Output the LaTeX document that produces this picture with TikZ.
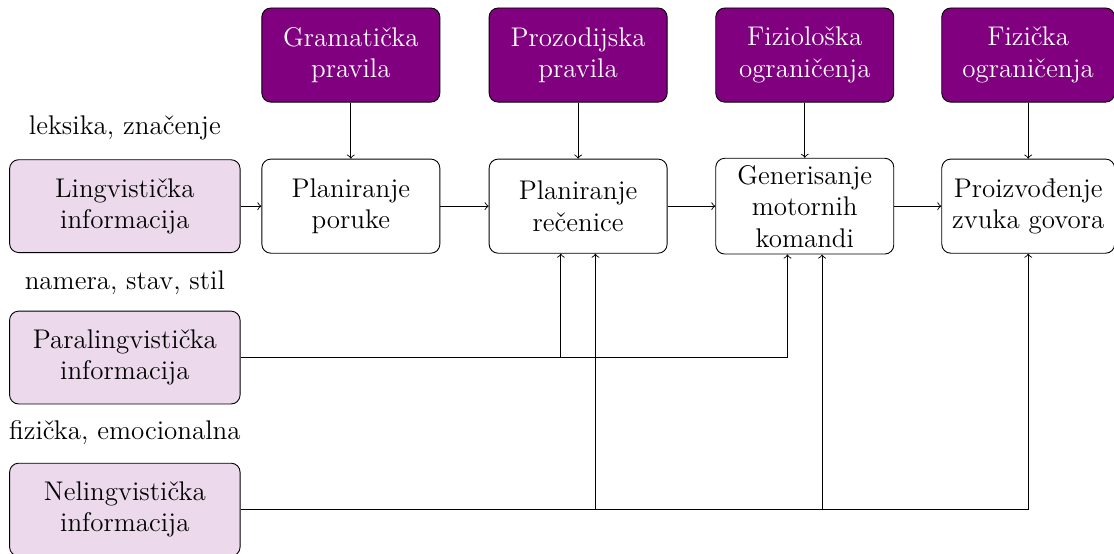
\documentclass[tikz,border=0pt]{standalone}
\usepackage{fontspec}

\definecolor{ljubicasta}{RGB}{128,0,128}
\def\dx{0.27cm}

\begin{document}
\begin{tikzpicture}[>=to, every node/.style={align=center,font=\large,inner sep=3pt}, korak/.style={rectangle,rounded corners,draw,minimum width=2.78cm,minimum height=1.47cm}, pravilo/.style={korak,fill=ljubicasta,text=white}, ulaz/.style={korak,fill=ljubicasta!15,minimum width=3.6cm,minimum height=1.45cm}]

		\useasboundingbox (0,0) rectangle (17.4,-8.64);

		\node (gram) at (5.48,-0.86) [pravilo] {Gramatička\\pravila};
		\node (proz) at (9.03,-0.86) [pravilo] {Prozodijska\\pravila};
		\node (fiziol) at (12.57,-0.86) [pravilo] {Fiziološka\\ograničenja};
		\node (fiz) at (16.06,-0.86) [pravilo,minimum width=2.7cm] {Fizička\\ograničenja};

		\node (poruka) at (5.48,-3.22) [korak] {Planiranje\\poruke};
		\node (recenica) at (9.03,-3.22) [korak] {Planiranje\\rečenice};
		\node (motor) at (12.57,-3.22) [korak] {Generisanje\\motornih\\komandi};
		\node (zvuk) at (16.06,-3.22) [korak,minimum width=2.7cm] {Proizvođenje\\zvuka govora};

		\node (ling) at (1.95,-3.22) [ulaz] {Lingvistička\\informacija};
		\node (para) at (1.95,-5.585) [ulaz] {Paralingvistička\\informacija};
		\node (nel) at (1.95,-7.96) [ulaz] {Nelingvistička\\informacija};

		\node (lleks) at (1.95,-2.0) {leksika, značenje};
		\node (lnam) at (1.95,-4.42) {namera, stav, stil};
		\node (lfiz) at (1.95,-6.76) {fizička, emocionalna};

		\draw[->] (ling) to (poruka);
		\draw[->] (poruka) to (recenica);
		\draw[->] (recenica) to (motor);
		\draw[->] (motor) to (zvuk);

		\draw[->] (gram) to (poruka);
		\draw[->] (proz) to (recenica);
		\draw[->] (fiziol) to (motor);
		\draw[->] (fiz) to (zvuk);

		\draw[->] (para.east) -| ([xshift=-\dx]recenica.south);
		\draw[->] (para.east) -| ([xshift=-\dx]motor.south);
		\draw[->] (nel.east) -| ([xshift=\dx]recenica.south);
		\draw[->] (nel.east) -| ([xshift=\dx]motor.south);
		\draw[->] (nel.east) -| (zvuk.south);

	\end{tikzpicture}
\end{document}
